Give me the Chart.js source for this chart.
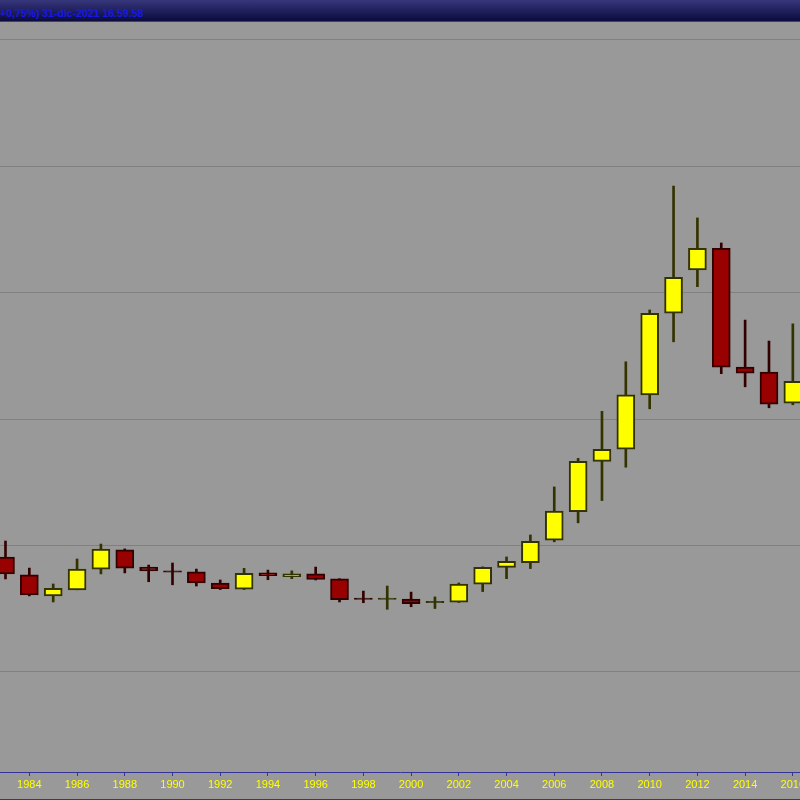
<!DOCTYPE html>
<html>
<head>
<meta charset="utf-8">
<script src="https://cdn.jsdelivr.net/npm/chart.js@4/dist/chart.umd.min.js"></script>
<style>
  html, body { margin: 0; padding: 0; background: #999999; overflow: hidden; }
  #bar {
    position: absolute; left: 0; top: 0; width: 800px; height: 21px;
    background: linear-gradient(#36367c, #0b0b3e);
    border-bottom: 1px solid #3c3c92;
    font: bold 10.5px "Liberation Sans", Arial, sans-serif;
    color: #1818e6; line-height: 26px; white-space: nowrap;
  }
  #wrap { position: absolute; left: 0; top: 22px; width: 800px; height: 777px; }
  #bottom { position: absolute; left: 0; top: 799px; width: 800px; height: 1px; background: #333399; }
</style>
</head>
<body>
<div id="bar">+0,75%) 31-dic-2021 16.59.58</div>
<div id="wrap"><canvas id="myChart"></canvas></div>
<div id="bottom"></div>
<script>
// yearly candles, values
const years  = [1983,1984,1985,1986,1987,1988,1989,1990,1991,1992,1993,1994,1995,1996,1997,1998,1999,2000,
                2001,2002,2003,2004,2005,2006,2007,2008,2009,2010,2011,2012,2013,2014,2015,2016];
const opens  = [455,384,301,325,407,483,415,400,396,352,328,392,377,388,368,292,287,288,
                274,276,347,414,432,521,634,833,881,1096,1419,1590,1676,1206,1186,1063];
const highs  = [518,411,348,447,506,487,423,431,407,364,410,403,400,415,369,320,340,316,
                297,352,416,455,542,732,845,1031,1227,1432,1922,1796,1697,1392,1309,1377];
const lows   = [368,301,277,325,388,392,357,345,340,326,326,365,369,364,277,274,248,258,
                251,275,318,369,409,515,590,678,810,1041,1306,1524,1180,1128,1045,1057];
const closes = [388,305,331,407,486,411,400,395,352,330,390,381,388,366,286,287,292,270,
                279,348,414,438,517,636,833,881,1096,1419,1561,1676,1206,1182,1059,1150];

// axis ticks
const yearTicks = [1984,1986,1988,1990,1992,1994,1996,1998,2000,2002,2004,2006,2008,2010,2012,2014,2016];
const gridValues = [0,500,1000,1500,2000,2500];

const up = closes.map((c, i) => c >= opens[i]);
const edge = up.map(u => u ? '#333300' : '#330000');
// near-doji bodies are only a dark line
const flat = closes.map((c, i) => Math.abs(c - opens[i]) < 8);

let ctx = document.getElementById('myChart').getContext('2d');

new Chart(ctx, {
    type: 'bar',
    data: {
        datasets: [{
            // bodies first so they are painted over the wicks
            label: 'body',
            data: years.map((y, i) => ({x: y, y: [opens[i], closes[i]]})),
            backgroundColor: up.map((u, i) => flat[i] ? edge[i] : (u ? '#ffff00' : '#990000')),
            borderColor: edge,
            borderWidth: 2,
            borderSkipped: false,
            barThickness: 18,
            grouped: false
        }, {
            label: 'wick',
            data: years.map((y, i) => ({x: y, y: [lows[i], highs[i]]})),
            backgroundColor: edge,
            borderWidth: 0,
            barThickness: 2,
            grouped: false
        }]
    },
    options: {
        responsive: true,
        maintainAspectRatio: false,
        animation: false,
        layout: { padding: 0 },
        plugins: {
            legend: { display: false },
            tooltip: { enabled: false },
            title: { display: false }
        },
        scales: {
            x: {
                type: 'linear',
                min: 1982.77,
                max: 2016.3,
                offset: false,
                grid: { drawOnChartArea: false, drawTicks: true, tickLength: 4, offset: false, color: '#333399' },
                border: { color: '#333399', width: 1 },
                ticks: {
                    autoSkip: false,
                    maxRotation: 0,
                    padding: 2,
                    color: '#ffff00',
                    font: { family: 'Liberation Sans, Arial', size: 11 },
                    callback: v => String(v)
                },
                afterBuildTicks(s) { s.ticks = yearTicks.map(v => ({value: v})); },
                afterFit(s) { s.height = 27; s.paddingLeft = 0; s.paddingRight = 0; }
            },
            y: {
                min: -395.6,
                max: 2571,
                grid: { drawTicks: false, color: '#808080' },
                border: { display: false },
                ticks: { display: false },
                afterBuildTicks(s) { s.ticks = gridValues.map(v => ({value: v})); },
                afterFit(s) { s.width = 0; s.paddingTop = 0; s.paddingBottom = 0; }
            }
        }
    }
});
</script>
</body>
</html>
